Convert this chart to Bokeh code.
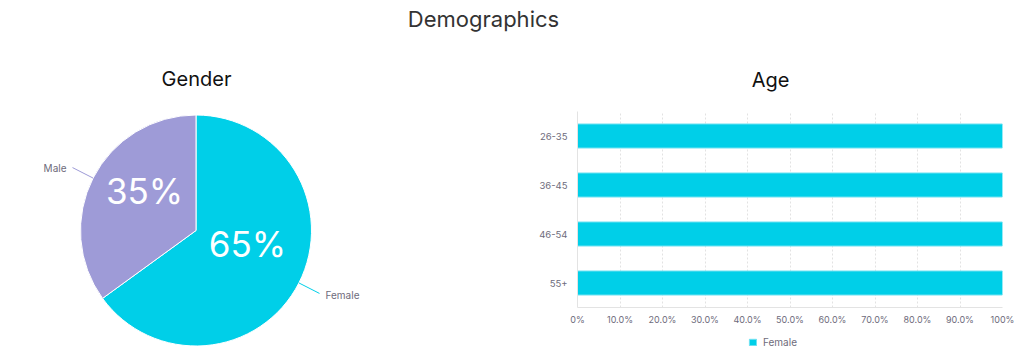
import math
from bokeh.plotting import figure
from bokeh.layouts import column, row
from bokeh.models import Range1d, Label, FactorRange, FixedTicker, ColumnDataSource
from bokeh.core.properties import value
from bokeh.embed import file_html
from bokeh.resources import INLINE

# ---------------- data ----------------
page_title = "Demographics"

gender_title = "Gender"
genders = ["Female", "Male"]
gender_share = [65, 35]
gender_colors = ["#00CFE8", "#9E9BD7"]

age_title = "Age"
age_groups = ["26-35", "36-45", "46-54", "55+"]
female_share_by_age = [100, 100, 100, 100]
series_name = "Female"
x_ticks = [0, 10, 20, 30, 40, 50, 60, 70, 80, 90, 100]
x_tick_labels = ["0%", "10.0%", "20.0%", "30.0%", "40.0%", "50.0%",
                 "60.0%", "70.0%", "80.0%", "90.0%", "100%"]

# ---------------- styles ----------------
FONT = "Inter"
TICK_COLOR = "#6e6b7b"
BAR_COLOR = "#00CFE8"
BAR_LINE = "#6FE2F2"


def blank(w, h):
    f = figure(width=w, height=h, x_range=Range1d(0, w), y_range=Range1d(0, h),
               x_axis_location=None, y_axis_location=None, toolbar_location=None,
               output_backend="svg", min_border=0, frame_align=False)
    f.grid.visible = False
    f.outline_line_color = None
    return f


# ---------------- page title ----------------
tf = blank(1024, 40)
tf.add_layout(Label(x=483, y=21.7, text=page_title, text_align="center",
                    text_baseline="middle", text_font=FONT, text_font_size="22px",
                    text_color="#333333"))

# ---------------- pie ----------------
PW, PH = 420, 320
R = 115.5
cx, cy = 195.5, 130
pf = figure(width=PW, height=PH,
            x_range=Range1d(-cx / R, (PW - cx) / R),
            y_range=Range1d(-cy / R, (PH - cy) / R),
            x_axis_location=None, y_axis_location=None, toolbar_location=None,
            output_backend="svg", min_border=0, frame_align=False)
pf.grid.visible = False
pf.outline_line_color = None

total = float(sum(gender_share))
starts, ends, mids = [], [], []
cum = 0.0
for v in gender_share:
    a0 = math.pi / 2 - 2 * math.pi * (cum + v) / total
    a1 = math.pi / 2 - 2 * math.pi * cum / total
    starts.append(a0)
    ends.append(a1)
    mids.append((a0 + a1) / 2)
    cum += v

src = ColumnDataSource(dict(start=starts, end=ends, color=gender_colors, name=genders))
pf.wedge(x=0, y=0, radius=1, start_angle="start", end_angle="end",
         fill_color="color", line_color="white", line_width=1, source=src)

for name, v, m, col in zip(genders, gender_share, mids, gender_colors):
    c, s = math.cos(m), math.sin(m)
    pf.text(x=[0.5 * c], y=[0.5 * s], text=[f"{v}%"], text_font=value(FONT),
            text_font_size="35px", text_color="white", text_align="center",
            text_baseline="middle", y_offset=-13)
    pf.segment(x0=[1.0 * c], y0=[1.0 * s], x1=[1.2 * c], y1=[1.2 * s],
               line_color=col, line_width=1)
    pf.text(x=[1.2 * c], y=[1.2 * s], text=[name], text_font=value(FONT),
            text_font_size="10px", text_color=TICK_COLOR,
            text_align="right" if c < 0 else "left", text_baseline="middle",
            x_offset=-6 if c < 0 else 6, y_offset=0 if c < 0 else 2)

pf.add_layout(Label(x=196, y=282, x_units="screen", y_units="screen",
                    text=gender_title, text_align="center", text_baseline="middle",
                    text_font=FONT, text_font_size="20px", text_color="#111111"))

# ---------------- age title ----------------
RW = 604
af = blank(RW, 71)
af.add_layout(Label(x=350, y=32, text=age_title, text_align="center",
                    text_baseline="middle", text_font=FONT, text_font_size="20px",
                    text_color="#111111"))

# ---------------- bars ----------------
bf = figure(width=RW, height=218,
            y_range=FactorRange(factors=list(reversed(age_groups))),
            x_range=Range1d(0, 100), toolbar_location=None, output_backend="svg",
            min_border_left=157, min_border_right=22, min_border_top=0,
            min_border_bottom=22)
bf.hbar(y=age_groups, left=0, right=female_share_by_age, height=0.49,
        fill_color=BAR_COLOR, line_color=BAR_LINE, line_width=1)

bf.xaxis.ticker = FixedTicker(ticks=x_ticks)
bf.xaxis.major_label_overrides = dict(zip(x_ticks, x_tick_labels))
bf.xaxis.major_tick_line_color = None
bf.xaxis.minor_tick_line_color = None
bf.xaxis.major_tick_out = 0
bf.xaxis.axis_line_color = "#e3e3e3"
bf.xaxis.major_label_standoff = 6
bf.xaxis.major_label_text_font = FONT
bf.xaxis.major_label_text_font_size = "9px"
bf.xaxis.major_label_text_color = TICK_COLOR

bf.yaxis.major_tick_line_color = None
bf.yaxis.minor_tick_line_color = None
bf.yaxis.major_tick_out = 0
bf.yaxis.axis_line_color = "#e3e3e3"
bf.yaxis.major_label_standoff = 10
bf.yaxis.major_label_text_font = FONT
bf.yaxis.major_label_text_font_size = "9.5px"
bf.yaxis.major_label_text_color = TICK_COLOR

bf.xgrid.ticker = FixedTicker(ticks=x_ticks)
bf.xgrid.grid_line_color = "#e2e2e2"
bf.xgrid.grid_line_dash = "2 2"
bf.ygrid.visible = False
bf.outline_line_color = None

# ---------------- legend ----------------
# legend swatch: a renderer whose single bar lies outside this strip's ranges
lf = blank(RW, 26)
lf.hbar(y=[-100], left=[0], right=[1], height=0.5, fill_color=BAR_COLOR,
        line_color=BAR_LINE, line_width=1, legend_label=series_name)
lg = lf.legend[0]
lg.location = "center_right"
lg.orientation = "horizontal"
lg.padding = 0
lg.margin = 221
lg.spacing = 0
lg.border_line_color = None
lg.background_fill_alpha = 0
lg.glyph_width = 9
lg.glyph_height = 8
lg.label_height = 14
lg.label_width = 40
lg.label_standoff = 6
lg.label_text_font = FONT
lg.label_text_font_size = "10px"
lg.label_text_color = TICK_COLOR

layout = column(tf, row(pf, column(af, bf, lf)))
open("out.html", "w").write(file_html(layout, INLINE))
